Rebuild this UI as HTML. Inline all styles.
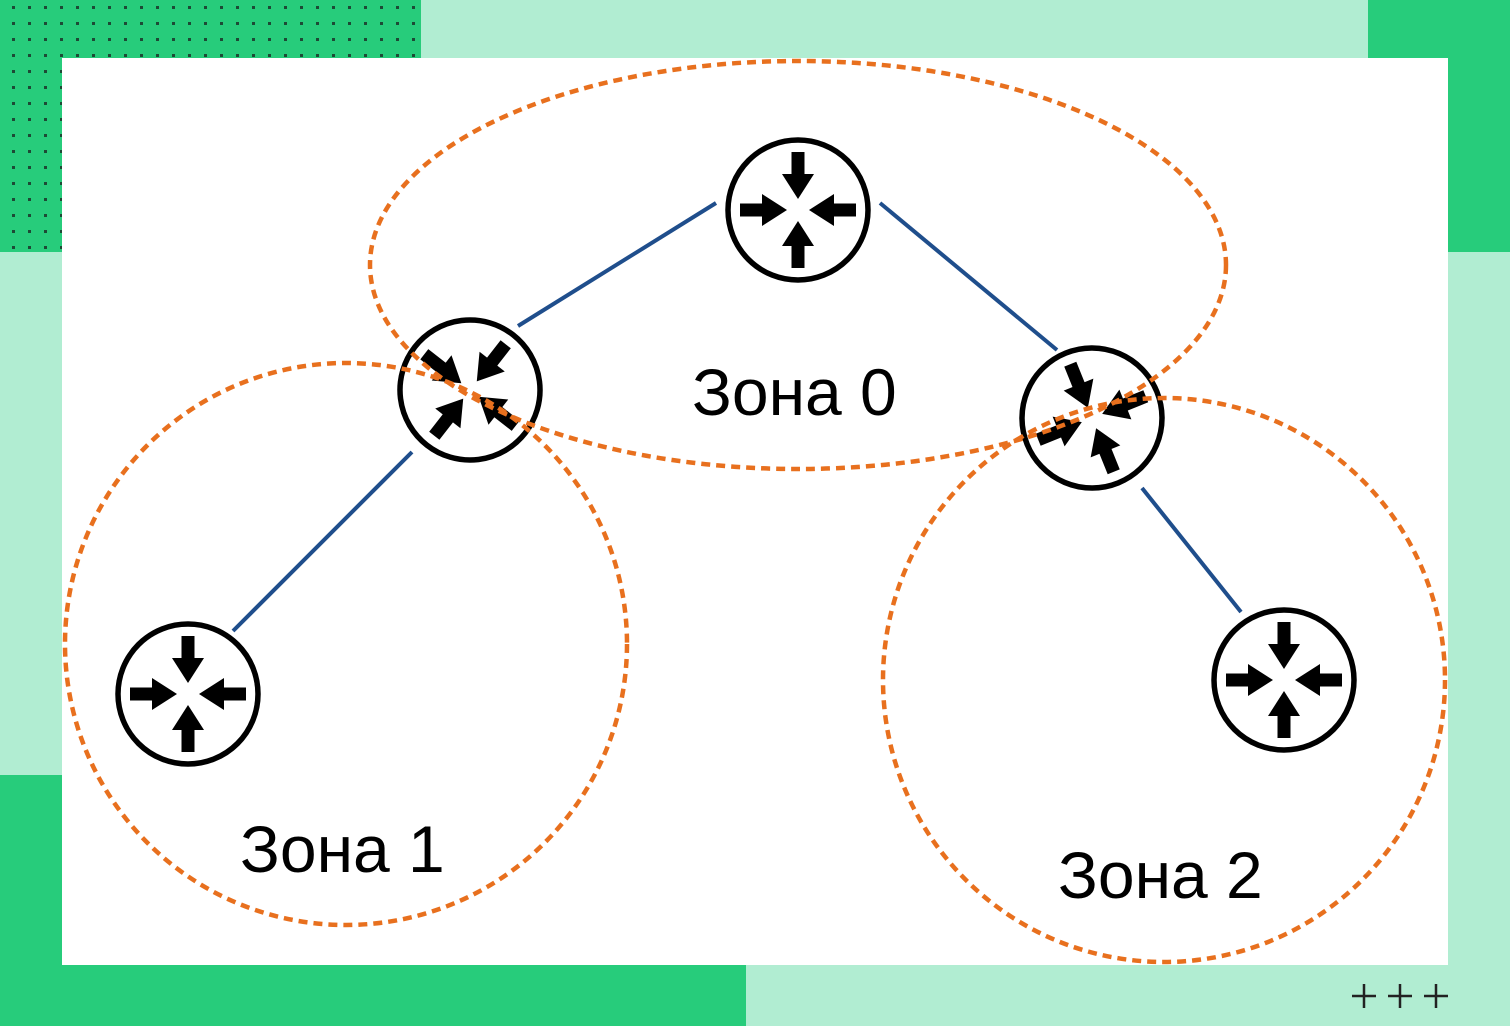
<!DOCTYPE html>
<html><head><meta charset="utf-8"><style>
html,body{margin:0;padding:0}
body{width:1510px;height:1026px;overflow:hidden;background:#b1edd2;position:relative;font-family:"Liberation Sans","DejaVu Sans",sans-serif}
</style></head><body>
<svg width="1510" height="1026" viewBox="0 0 1510 1026" style="position:absolute;left:0;top:0">
<defs>
<pattern id="dots" x="12" y="6" width="16" height="16" patternUnits="userSpaceOnUse"><rect x="0" y="0" width="3" height="3" fill="#1d4a35"/></pattern>
<g id="ar"><rect x="-6.5" y="-58" width="13" height="28" fill="#000"/><polygon points="-16,-36 16,-36 0,-11" fill="#000"/></g>
<g id="rt">
<circle r="70" fill="#fff" stroke="#000" stroke-width="5.5"/>
<use href="#ar"/><use href="#ar" transform="rotate(90)"/><use href="#ar" transform="rotate(180)"/><use href="#ar" transform="rotate(270)"/>
</g>
</defs>
<rect x="0" y="0" width="421" height="252" fill="#27cc7b"/>
<rect x="0" y="0" width="421" height="252" fill="url(#dots)"/>
<rect x="1368" y="0" width="142" height="252" fill="#27cc7b"/>
<rect x="0" y="775" width="746" height="251" fill="#27cc7b"/>
<rect x="62" y="58" width="1386" height="907" fill="#fff"/>
<g stroke="#1f4e8c" stroke-width="4">
<line x1="716" y1="203" x2="518" y2="326"/>
<line x1="880" y1="203" x2="1057" y2="350"/>
<line x1="412" y1="452" x2="233" y2="631"/>
<line x1="1142" y1="488" x2="1241" y2="612"/>
</g>
<use href="#rt" transform="translate(798,210)"/>
<use href="#rt" transform="translate(470,390) rotate(38)"/>
<use href="#rt" transform="translate(1092,418) rotate(-22)"/>
<use href="#rt" transform="translate(188,694)"/>
<use href="#rt" transform="translate(1284,680)"/>
<g fill="none" stroke="#e8701e" stroke-width="4.5" stroke-dasharray="9,6">
<ellipse cx="798" cy="265" rx="428" ry="204"/>
<ellipse cx="346" cy="644" rx="281" ry="281"/>
<ellipse cx="1164" cy="680" rx="281" ry="282"/>
</g>
<g font-size="66" fill="#000">
<text x="692" y="415">Зона 0</text>
<text x="240" y="872">Зона 1</text>
<text x="1058" y="898">Зона 2</text>
</g>
<g stroke="#222" stroke-width="2.5">
<path d="M1352 996h24M1364 984v24M1388 996h24M1400 984v24M1424 996h24M1436 984v24"/>
</g>
</svg>
</body></html>
